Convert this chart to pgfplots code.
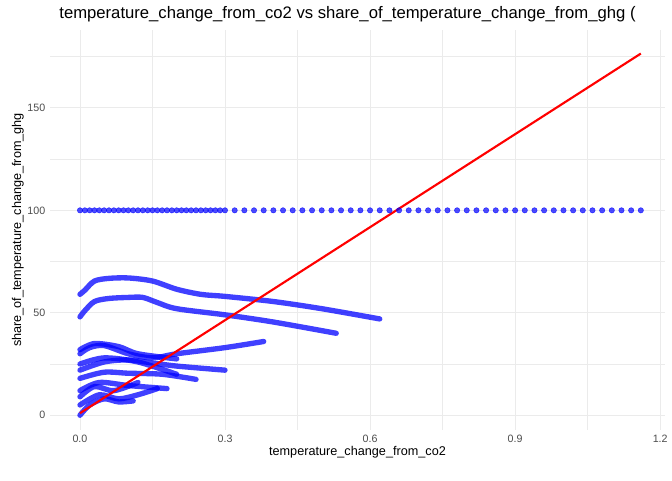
\documentclass[border=0pt]{standalone}
\usepackage{pgfplots}
\pgfplotsset{compat=1.18}
\usepackage{fontspec}
\setmainfont{Liberation Sans}
\definecolor{gridc}{gray}{0.92}
\definecolor{tickc}{gray}{0.3}
\begin{document}
\begin{tikzpicture}
\path[use as bounding box] (-37.5pt,-37.5pt) rectangle (466.5pt,322.5pt);
\begin{axis}[
  at={(0,0)}, anchor=south west, scale only axis,
  width=461.25pt, height=300pt,
  xmin=-0.062, xmax=1.21, ymin=-7.2, ymax=188,
  axis line style={draw=none}, tick style={draw=none},
  xtick={0,0.3,0.6,0.9,1.2}, xticklabels={0.0,0.3,0.6,0.9,1.2},
  ytick={0,50,100,150},
  minor xtick={0.15,0.45,0.75,1.05}, minor ytick={25,75,125,175},
  grid=both, major grid style={gridc, line width=0.6pt}, minor grid style={gridc, line width=0.3pt},
  ticklabel style={font=\fontsize{8}{9}\selectfont, text=tickc},
  /pgf/number format/assume math mode=true,
  xlabel={temperature\_change\_from\_co2}, ylabel={share\_of\_temperature\_change\_from\_ghg},
  label style={font=\fontsize{9.5}{11}\selectfont},
  xlabel style={yshift=4pt}, ylabel style={yshift=-4pt},
  clip=false,
]
\pgfplotsset{cur/.style={blue, opacity=0.75, line width=4pt, line cap=round, line join=round, smooth}}
\addplot[only marks, mark=*, mark size=2pt, blue, opacity=0.7] coordinates {
(0,100)(0.01,100)(0.02,100)(0.03,100)(0.04,100)(0.05,100)(0.06,100)(0.07,100)(0.08,100)(0.09,100)
(0.10,100)(0.11,100)(0.12,100)(0.13,100)(0.14,100)(0.15,100)(0.16,100)(0.17,100)(0.18,100)(0.19,100)
(0.20,100)(0.21,100)(0.22,100)(0.23,100)(0.24,100)(0.25,100)(0.26,100)(0.27,100)(0.28,100)(0.29,100)
(0.30,100)(0.32,100)(0.34,100)(0.36,100)(0.38,100)(0.40,100)(0.42,100)(0.44,100)(0.46,100)(0.48,100)
(0.50,100)(0.52,100)(0.54,100)(0.56,100)(0.58,100)(0.60,100)(0.62,100)(0.64,100)(0.66,100)(0.68,100)
(0.70,100)(0.72,100)(0.74,100)(0.76,100)(0.78,100)(0.80,100)(0.82,100)(0.84,100)(0.86,100)(0.88,100)
(0.90,100)(0.92,100)(0.94,100)(0.96,100)(0.98,100)(1.00,100)(1.02,100)(1.04,100)(1.06,100)(1.08,100)
(1.10,100)(1.12,100)(1.14,100)(1.16,100)};
\addplot[cur] coordinates {(0,59)(0.01,61)(0.03,65.5)(0.06,66.8)(0.1,67)(0.15,65.5)(0.2,61.5)(0.25,59)(0.3,58)(0.4,55.5)(0.5,52)(0.62,47)};
\addplot[cur] coordinates {(0,48)(0.01,51)(0.03,55.5)(0.06,57)(0.1,57.5)(0.13,57.5)(0.16,55)(0.2,52)(0.3,49)(0.4,45.5)(0.53,40)};
\addplot[cur] coordinates {(0,30)(0.02,33)(0.05,34)(0.1,30)(0.15,28)(0.2,30)(0.3,33)(0.38,36)};
\addplot[cur] coordinates {(0,32)(0.03,35)(0.08,33.5)(0.12,30)(0.2,27.5)};
\addplot[cur] coordinates {(0,22)(0.05,26)(0.1,27)(0.15,25.5)(0.2,24)(0.3,22)};
\addplot[cur] coordinates {(0,18)(0.05,21)(0.1,20.5)(0.17,20)(0.24,17.5)};
\addplot[cur] coordinates {(0,25)(0.05,28)(0.12,26)(0.2,20)};
\addplot[cur] coordinates {(0,12)(0.04,16)(0.1,14.5)(0.18,13)};
\addplot[cur] coordinates {(0,5)(0.04,10)(0.08,8)(0.12,10)(0.16,13)};
\addplot[cur] coordinates {(0,0)(0.02,5)(0.05,8)(0.08,6.5)(0.11,7)};
\addplot[cur] coordinates {(0,9)(0.03,14)(0.07,12)(0.12,16)};
\addplot[red, line width=1.6pt] coordinates {(0,1)(1.16,176.5)};
\end{axis}
\node[anchor=west, font=\fontsize{12.5}{14}\selectfont] at (3.5pt,312pt) {temperature\_change\_from\_co2 vs share\_of\_temperature\_change\_from\_ghg (};
\end{tikzpicture}
\end{document}
